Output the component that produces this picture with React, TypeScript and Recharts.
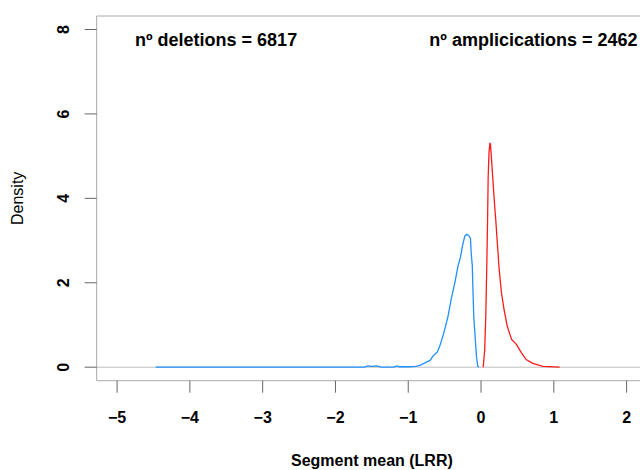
import React from "react";
import { LineChart, Line, XAxis, YAxis, ReferenceArea, ReferenceLine, ReferenceDot } from "recharts";

// Deletions density (blue)
const delX = [-4.47, -3.0, -2.0, -1.6, -1.56, -1.5, -1.44, -1.37, -1.3, -1.2, -1.16, -1.12, -1.0, -0.9, -0.84, -0.8, -0.75, -0.7, -0.66, -0.6, -0.567, -0.51, -0.453, -0.41, -0.36, -0.316, -0.283, -0.256, -0.224, -0.2, -0.17, -0.145, -0.135, -0.12, -0.114, -0.1, -0.082, -0.063, -0.045, -0.03];
const delY = [0, 0, 0, 0, 0.03, 0.02, 0.03, 0, 0, 0, 0.03, 0.01, 0.01, 0.02, 0.04, 0.08, 0.12, 0.16, 0.26, 0.36, 0.5, 0.82, 1.21, 1.61, 2.0, 2.4, 2.6, 2.87, 3.1, 3.15, 3.12, 3.05, 2.7, 2.4, 2.0, 1.21, 0.74, 0.26, 0.02, 0];

// Amplifications density (red)
const ampX = [0.03, 0.05, 0.065, 0.08, 0.09, 0.098, 0.11, 0.122, 0.129, 0.147, 0.165, 0.184, 0.202, 0.22, 0.234, 0.245, 0.28, 0.316, 0.36, 0.42, 0.486, 0.555, 0.62, 0.71, 0.85, 1.08];
const ampY = [0, 0.4, 1.2, 2.5, 3.5, 4.5, 5.1, 5.3, 5.29, 4.85, 4.38, 3.9, 3.5, 3.03, 2.7, 2.4, 1.77, 1.37, 0.97, 0.66, 0.54, 0.34, 0.18, 0.09, 0.02, 0];

const xTicks = [-5, -4, -3, -2, -1, 0, 1, 2];
const yTicks = [0, 2, 4, 6, 8];
const xDomain = [-5.28, 2.28];
const yDomain = [-0.32, 8.32];

const annoX = [-3.64, 0.72];
const annoY = [7.76, 7.76];
const annoText = ["nº deletions = 6817", "nº amplicications = 2462"];

const xTitle = "Segment mean (LRR)";
const yTitle = "Density";

const FONT = '"Liberation Sans", Arial, Helvetica, sans-serif';
const fmt = (v: number) => (v < 0 ? "\u2212" + Math.abs(v) : String(v));

const delData = delX.map((x, i) => ({ x, y: delY[i] }));
const ampData = ampX.map((x, i) => ({ x, y: ampY[i] }));

const XTick = (props: any) => {
  const { x, y, payload } = props;
  return (
    <text x={x} y={y + 30} textAnchor="middle" fontSize={16} fontWeight="bold" fontFamily={FONT} fill="#000">
      {fmt(payload.value)}
    </text>
  );
};

const YTick = (props: any) => {
  const { x, y, payload } = props;
  const tx = x - 15.5;
  return (
    <text x={tx} y={y} transform={`rotate(-90, ${tx}, ${y})`} textAnchor="middle" fontSize={16} fontWeight="bold" fontFamily={FONT} fill="#000">
      {fmt(payload.value)}
    </text>
  );
};

const XTitle = (props: any) => {
  const vb = props.viewBox || { x: 96.7, y: 380.7, width: 550.3, height: 89.3 };
  const cx = 371.9;
  return (
    <text x={cx} y={vb.y + 85.5} textAnchor="middle" fontSize={16} fontWeight="bold" fontFamily={FONT} fill="#000">
      {xTitle}
    </text>
  );
};

const YTitle = (props: any) => {
  const vb = props.viewBox || { x: 0, y: 16, width: 96.7, height: 364.7 };
  const cy = vb.y + vb.height / 2;
  const tx = 23;
  return (
    <text x={tx} y={cy} transform={`rotate(-90, ${tx}, ${cy})`} textAnchor="middle" fontSize={16} fontFamily={FONT} fill="#000">
      {yTitle}
    </text>
  );
};

const makeAnno = (text: string) => (props: any) => (
  <text x={props.cx} y={props.cy + 6.7} textAnchor="middle" fontSize={18} fontWeight="bold" fontFamily={FONT} fill="#000">
    {text}
  </text>
);

export default function App() {
  return (
    <div style={{ position: "fixed", left: 0, top: 0, width: 640, height: 470, overflow: "hidden", background: "#fff" }}>
      <LineChart width={660} height={470} margin={{ top: 16, right: 13, left: 0, bottom: 0 }}>
        <XAxis
          type="number"
          dataKey="x"
          domain={xDomain}
          ticks={xTicks}
          allowDataOverflow
          height={89.3}
          axisLine={false}
          tickLine={{ stroke: "#666" }}
          tickSize={12}
          tickMargin={0}
          tick={<XTick />}
          label={{ content: <XTitle /> }}
        />
        <YAxis
          type="number"
          dataKey="y"
          domain={yDomain}
          ticks={yTicks}
          allowDataOverflow
          width={96.7}
          axisLine={false}
          tickLine={{ stroke: "#666" }}
          tickSize={12}
          tickMargin={0}
          tick={<YTick />}
          label={{ content: <YTitle /> }}
        />
        <ReferenceArea x1={xDomain[0]} x2={xDomain[1]} y1={yDomain[0]} y2={yDomain[1]} fill="none" fillOpacity={0} stroke="#a8a8a8" strokeWidth={1} />
        <ReferenceLine y={0} stroke="#bebebe" strokeWidth={1} />
        <Line data={delData} dataKey="y" type="linear" stroke="#1E90FF" strokeWidth={1.3} dot={false} isAnimationActive={false} />
        <Line data={ampData} dataKey="y" type="linear" stroke="#FF1A1A" strokeWidth={1.3} dot={false} isAnimationActive={false} />
        {annoText.map((t, i) => (
          <ReferenceDot key={t} x={annoX[i]} y={annoY[i]} r={0} shape={makeAnno(t)} />
        ))}
      </LineChart>
    </div>
  );
}
